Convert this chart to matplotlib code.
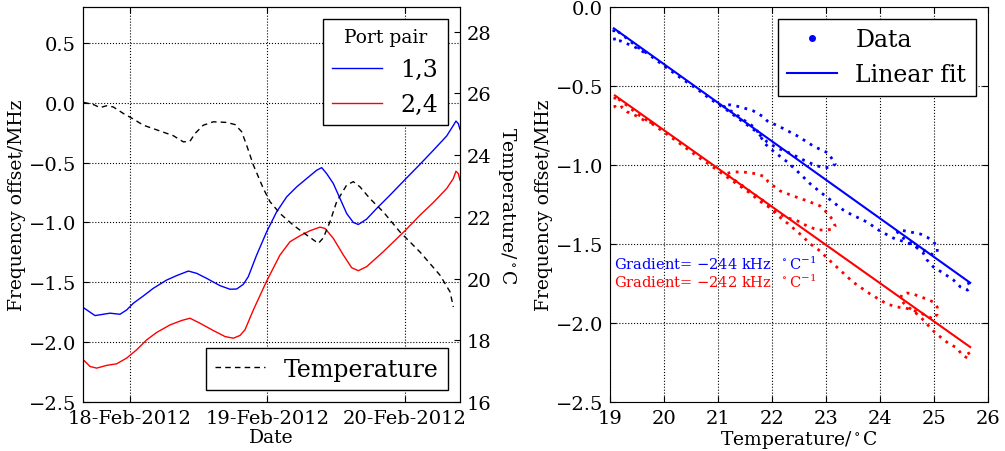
import numpy as np
import pandas as pd
import matplotlib
matplotlib.use("Agg")
import matplotlib.pyplot as plt
import matplotlib.dates as mdates
from matplotlib.lines import Line2D

# estilo: serif, ticks hacia dentro
plt.rcParams["font.family"] = "serif"
plt.rcParams["font.serif"] = ["DejaVu Serif"]
plt.rcParams["mathtext.fontset"] = "dejavuserif"
plt.rcParams["font.size"] = 14
plt.rcParams["axes.labelsize"] = 13.5
plt.rcParams["xtick.direction"] = "in"
plt.rcParams["ytick.direction"] = "in"
plt.rcParams["xtick.major.size"] = 4
plt.rcParams["ytick.major.size"] = 4
plt.rcParams["xtick.major.pad"] = 5
plt.rcParams["ytick.major.pad"] = 5
plt.rcParams["legend.fancybox"] = False
plt.rcParams["legend.edgecolor"] = "black"
plt.rcParams["legend.framealpha"] = 1.0

# datos del panel izquierdo (horas desde 18-Feb-2012 00:00)
start = pd.Timestamp("2012-02-18")

hours_13 = [-8.15, -6.11, -3.49, -1.75, -0.58, 0.58, 2.33, 4.07, 6.40, 8.15, 10.18,
            11.64, 13.38, 15.71, 17.46, 18.62, 19.78, 20.65, 22.11, 23.86, 25.60,
            27.35, 29.09, 30.84, 32.58, 33.46, 34.33, 35.49, 36.66, 37.82, 38.98,
            39.86, 41.31, 43.06, 45.38, 48.00, 50.62, 52.95, 55.27, 56.44, 56.90,
            57.31, 57.60]
freq_13 = [-1.711, -1.778, -1.758, -1.767, -1.731, -1.675, -1.614, -1.550, -1.481,
           -1.444, -1.406, -1.425, -1.467, -1.528, -1.558, -1.556, -1.517, -1.453,
           -1.272, -1.078, -0.911, -0.786, -0.703, -0.633, -0.564, -0.542, -0.592,
           -0.675, -0.800, -0.925, -1.000, -1.017, -0.972, -0.883, -0.772, -0.642,
           -0.514, -0.397, -0.278, -0.189, -0.153, -0.175, -0.222]

hours_24 = [-8.15, -6.98, -5.82, -4.07, -2.33, -0.58, 1.16, 2.91, 4.65, 6.98, 9.02,
            10.47, 12.22, 14.55, 16.58, 18.04, 19.20, 20.07, 21.53, 23.86, 26.18,
            27.93, 29.67, 31.42, 33.16, 34.04, 35.49, 37.24, 38.69, 39.86, 41.31,
            44.22, 48.00, 50.62, 52.95, 55.27, 56.44, 56.90, 57.31, 57.60]
freq_24 = [-2.147, -2.203, -2.217, -2.194, -2.181, -2.133, -2.064, -1.981, -1.919,
           -1.856, -1.819, -1.800, -1.842, -1.903, -1.953, -1.967, -1.944, -1.897,
           -1.731, -1.489, -1.272, -1.161, -1.111, -1.069, -1.039, -1.050, -1.133,
           -1.272, -1.378, -1.403, -1.369, -1.244, -1.069, -0.939, -0.833, -0.717,
           -0.633, -0.572, -0.592, -0.647]

hours_temp = [-8.15, -6.40, -5.24, -4.07, -2.91, -1.16, 0.58, 2.33, 4.65, 7.56, 9.31,
              10.47, 11.35, 12.80, 14.55, 16.87, 18.33, 19.49, 20.36, 21.53, 23.27,
              24.44, 26.18, 28.51, 30.84, 32.87, 33.75, 34.91, 36.07, 37.82, 38.98,
              40.15, 41.89, 44.22, 47.13, 50.62, 54.11, 55.86, 56.44]
temperature = [25.71, 25.64, 25.54, 25.60, 25.56, 25.35, 25.17, 24.97, 24.82, 24.63,
               24.43, 24.45, 24.70, 24.97, 25.08, 25.06, 24.99, 24.76, 24.32, 23.68,
               22.92, 22.49, 22.11, 21.73, 21.41, 21.14, 21.32, 21.84, 22.49, 23.03,
               23.14, 22.97, 22.59, 22.16, 21.51, 20.86, 20.11, 19.57, 19.08]

# datos del panel derecho (frecuencia vs temperatura)
temp_13 = [25.63, 25.67, 25.62, 25.49, 25.36, 25.17, 24.99, 24.87, 24.80, 24.62,
           24.43, 24.32, 24.37, 24.56, 24.75, 24.87, 24.99, 25.06, 25.06, 24.99,
           24.84, 24.65, 24.47,
           24.28, 24.00, 23.76, 23.45, 23.32, 23.13, 22.89, 22.71, 22.52, 22.28,
           22.02, 21.87,
           21.69, 21.50, 21.32, 21.09,
           21.22, 21.41, 21.65, 21.84, 21.91, 22.15, 22.47, 22.76, 22.95, 23.04,
           23.11, 23.17, 23.11, 22.98, 22.84, 22.65, 22.47, 22.28, 22.09, 21.91,
           21.69, 21.41, 21.13, 20.85, 20.63, 20.33, 20.02, 19.70, 19.50, 19.32,
           19.15, 19.07,
           19.07, 19.09, 19.19, 19.32, 19.41, 19.52, 19.61, 19.70]
freq_t_13 = [-1.741, -1.772, -1.792, -1.772, -1.728, -1.684, -1.646, -1.601, -1.557,
             -1.506, -1.462, -1.424, -1.411, -1.424, -1.437, -1.456, -1.487, -1.513,
             -1.551, -1.570, -1.544, -1.513, -1.487,
             -1.468, -1.418, -1.361, -1.310, -1.285, -1.234, -1.170, -1.120, -1.056,
             -0.980, -0.911, -0.866,
             -0.765, -0.721, -0.676, -0.625,
             -0.619, -0.632, -0.657, -0.695, -0.721, -0.759, -0.816, -0.879, -0.911,
             -0.923, -0.961, -0.993, -1.012, -1.018, -1.006, -0.980, -0.949, -0.917,
             -0.892, -0.854,
             -0.784, -0.714, -0.644, -0.581, -0.524, -0.454, -0.378, -0.296, -0.252,
             -0.201, -0.157, -0.138,
             -0.176, -0.220, -0.214, -0.233, -0.245, -0.264, -0.283, -0.302]

temp_24 = [25.63, 25.67, 25.62, 25.52, 25.43, 25.26, 25.12, 24.99, 24.87, 24.75,
           24.62, 24.47, 24.37, 24.41, 24.50, 24.62, 24.75, 24.87, 24.99, 25.06,
           25.06, 24.99, 24.84, 24.65, 24.47,
           24.32, 24.13, 23.82, 23.50, 23.26, 23.02, 22.89, 22.71, 22.52, 22.28,
           22.09,
           21.87, 21.63, 21.41, 21.13,
           21.28, 21.46, 21.72, 21.87, 21.93, 22.15, 22.39, 22.65, 22.89, 23.04,
           23.11, 23.17, 23.13, 23.02, 22.84, 22.65, 22.47, 22.24, 22.06,
           21.82, 21.56, 21.32, 21.08, 20.85, 20.63, 20.33, 20.02, 19.70, 19.50,
           19.32, 19.15, 19.09,
           19.09, 19.09, 19.13, 19.22, 19.32, 19.41, 19.52, 19.65, 19.78]
freq_t_24 = [-2.184, -2.209, -2.222, -2.203, -2.159, -2.127, -2.089, -2.051, -2.007,
             -1.962, -1.924, -1.886, -1.848, -1.817, -1.810, -1.817, -1.835, -1.848,
             -1.868, -1.899, -1.943, -1.975, -1.950, -1.924, -1.905,
             -1.899, -1.880, -1.817, -1.741, -1.665, -1.589, -1.544, -1.500, -1.437,
             -1.367, -1.316,
             -1.234, -1.177, -1.120, -1.056,
             -1.044, -1.044, -1.056, -1.075, -1.107, -1.164, -1.196, -1.227, -1.259,
             -1.310, -1.341, -1.386, -1.405, -1.411, -1.411, -1.386, -1.354, -1.329,
             -1.291,
             -1.240, -1.170, -1.113, -1.056, -0.999, -0.949, -0.873, -0.797, -0.721,
             -0.676, -0.625, -0.581, -0.562,
             -0.600, -0.632, -0.644, -0.632, -0.664, -0.676, -0.695, -0.721, -0.733]

# ajuste lineal (MHz/°C y ordenada)
fit_slope = [-0.244, -0.242]
fit_intercept = [4.518, 4.060]
gradient_khz = [-244, -242]
temp_ticks = [19, 20, 21, 22, 23, 24, 25, 26]

fig = plt.figure(figsize=(10.05, 4.52), dpi=100)

# ---- panel izquierdo ----
ax1 = fig.add_axes([0.0826, 0.1084, 0.3751, 0.8739])
ax2 = ax1.twinx()

t13 = start + pd.to_timedelta(hours_13, unit="h")
t24 = start + pd.to_timedelta(hours_24, unit="h")
tt = start + pd.to_timedelta(hours_temp, unit="h")

l13, = ax1.plot(t13, freq_13, color="b", lw=1, label="1,3")
l24, = ax1.plot(t24, freq_24, color="r", lw=1, label="2,4")
lt, = ax2.plot(tt, temperature, color="k", lw=1, dashes=(4, 3), label="Temperature")

ax1.set_xlim(start - pd.Timedelta(hours=8.2), start + pd.Timedelta(hours=57.6))
ax1.set_ylim(-2.5, 0.8)
ax2.set_ylim(16, 28.8)
ax1.set_yticks(np.arange(-2.5, 0.51, 0.5))
ax2.set_yticks(np.arange(16, 28.1, 2))
ax1.xaxis.set_major_locator(mdates.DayLocator())
ax1.xaxis.set_major_formatter(mdates.DateFormatter("%d-%b-%Y"))
ax1.tick_params(top=True, right=False)
ax1.grid(True, color="k", linestyle=":", linewidth=0.8)
ax1.set_xlabel("Date", labelpad=1)
ax1.set_ylabel("Frequency offset/MHz", labelpad=2)
ax2.set_ylabel(r"Temperature/$^\circ$C", rotation=270, labelpad=19)

leg1 = ax2.legend(handles=[l13, l24], title="Port pair", loc="upper right",
                  bbox_to_anchor=(0.968, 0.970), borderaxespad=0, fontsize=17,
                  title_fontsize=13.5, handlelength=2.1, handletextpad=0.8)
ax2.add_artist(leg1)
ax2.legend(handles=[lt], loc="lower right", bbox_to_anchor=(0.968, 0.030),
           borderaxespad=0, fontsize=17, handlelength=2.1, handletextpad=0.8)

# ---- panel derecho ----
ax3 = fig.add_axes([0.607, 0.1084, 0.3761, 0.8739])
ax3.plot(temp_13, freq_t_13, color="b", lw=2, dashes=(1, 2))
ax3.plot(temp_24, freq_t_24, color="r", lw=2, dashes=(1, 2))

for temps, s, b, c in [(temp_13, fit_slope[0], fit_intercept[0], "b"),
                       (temp_24, fit_slope[1], fit_intercept[1], "r")]:
    tx = np.array([min(temps), max(temps)])
    ax3.plot(tx, np.polyval([s, b], tx), color=c, lw=1.5)

ax3.text(19.08, -1.625, r"Gradient= $%d$ kHz  $^\circ$C$^{-1}$" % gradient_khz[0],
         color="b", fontsize=10.5, va="center")
ax3.text(19.08, -1.735, r"Gradient= $%d$ kHz  $^\circ$C$^{-1}$" % gradient_khz[1],
         color="r", fontsize=10.5, va="center")

ax3.set_xlim(19, 26)
ax3.set_ylim(-2.5, 0)
ax3.set_xticks(temp_ticks)
ax3.set_yticks(np.arange(-2.5, 0.01, 0.5))
ax3.tick_params(top=True, right=True)
ax3.grid(True, color="k", linestyle=":", linewidth=0.8)
ax3.set_xlabel(r"Temperature/$^\circ$C", labelpad=1)
ax3.set_ylabel("Frequency offset/MHz", labelpad=2)

h_data = Line2D([], [], color="b", ls="none", marker="o", ms=4)
h_fit = Line2D([], [], color="b", lw=1.5)
ax3.legend([h_data, h_fit], ["Data", "Linear fit"], loc="upper right",
           bbox_to_anchor=(0.968, 0.970), borderaxespad=0, fontsize=17,
           numpoints=1, handlelength=2.1, handletextpad=0.8)

fig.savefig("out.png", dpi=100)
